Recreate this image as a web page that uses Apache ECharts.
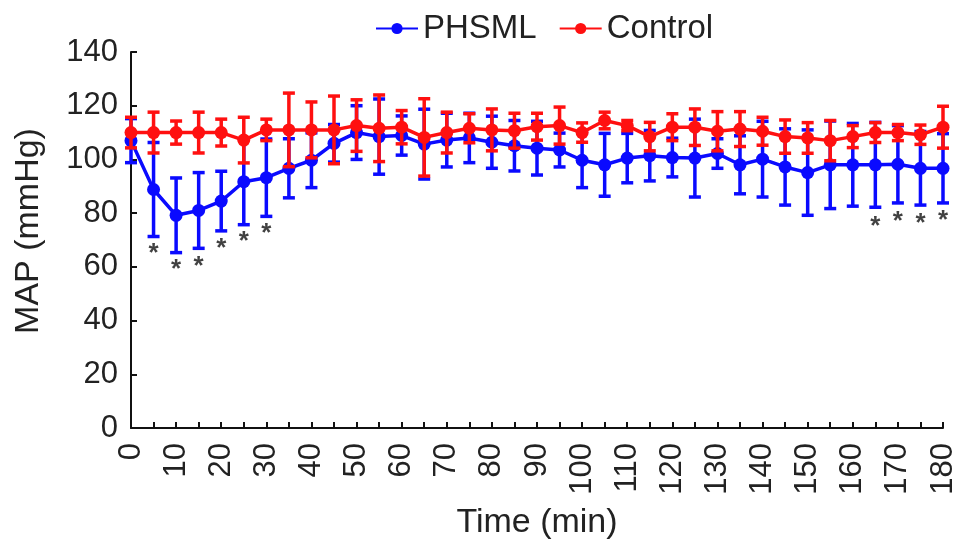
<!DOCTYPE html>
<html>
<head>
<meta charset="utf-8">
<script src="https://cdn.jsdelivr.net/npm/echarts@6/dist/echarts.min.js"></script>
<style>
  html, body { margin: 0; padding: 0; background: #fff; }
  #chart { width: 969px; height: 554px; }
</style>
</head>
<body>
<div id="chart"></div>
<script>
// time points (min)
var times = [0,5,10,15,20,25,30,35,40,45,50,55,60,65,70,75,80,85,90,95,100,105,110,115,120,125,130,135,140,145,150,155,160,165,170,175,180];

// PHSML group: mean and SD
var phsmlMean = [107,88.8,79.2,81,84.5,91.7,93.2,96.7,99.7,106,110,108.5,108.9,105.7,107.2,108,106.4,105.1,104.2,103.5,99.7,98,100.5,101.4,100.7,100.5,102.2,98,100.1,97.2,95.1,98,98,98,98.2,96.7,96.7];
var phsmlSd   = [8.2,17.5,13.9,14.1,11.1,16,14.4,11,10.2,7,10,14,7.3,13,10,9.2,9.7,9.4,10,6.3,10.2,11.7,9.2,9.4,7.2,14.5,5.5,10.8,14.1,14.2,15.9,16.3,15.4,15.8,14.4,13.7,12.9];

// Control group: mean and SD
var controlMean = [110,110,110,110,110,107.2,111,111,111,111,112.6,111.6,112,108.2,110,111.6,111,110.7,112.2,112.6,110,114.5,112.6,108.5,112,112,110.5,111.3,110.5,108.5,108,107,108.5,110,110,109.2,112];
var controlSd   = [5.7,7.6,4.3,7.6,5,8.5,4,13.7,10.4,12.6,9.6,12.4,6.2,14.4,7.6,5.4,7.8,6.5,5,6.9,3.6,3.1,1.9,5.3,5,6.8,7.3,6.5,5.2,6.2,5.7,7.5,4.1,3.7,3,3.6,7.8];

// significance marks (*)
var starTimes = [5,10,15,20,25,30,165,170,175,180];
var starY     = [67,61.3,62.3,69,71.7,74.4,77.2,79,78.2,79.4];

var blue = '#0a0aff';
var red = '#ff1010';
var font = 'Liberation Sans, Arial, Helvetica, sans-serif';

function pairs(xs, ys) {
  var out = [];
  for (var i = 0; i < xs.length; i++) out.push([xs[i], ys[i]]);
  return out;
}

function errData(mean, sd) {
  var out = [];
  for (var i = 0; i < times.length; i++) {
    out.push([times[i], mean[i] - sd[i], mean[i] + sd[i]]);
  }
  return out;
}

function errRender(color) {
  return function (params, api) {
    var lo = api.coord([api.value(0), api.value(1)]);
    var hi = api.coord([api.value(0), api.value(2)]);
    var w = 6;
    var style = { stroke: color, lineWidth: 3.5 };
    return {
      type: 'group',
      children: [
        { type: 'line', shape: { x1: lo[0], y1: lo[1], x2: hi[0], y2: hi[1] }, style: style },
        { type: 'line', shape: { x1: lo[0] - w, y1: lo[1], x2: lo[0] + w, y2: lo[1] }, style: style },
        { type: 'line', shape: { x1: hi[0] - w, y1: hi[1], x2: hi[0] + w, y2: hi[1] }, style: style }
      ]
    };
  };
}

var myChart = echarts.init(document.getElementById('chart'));

var option = {
  animation: false,
  backgroundColor: '#fff',
  textStyle: { fontFamily: font },
  legend: {
    top: 7,
    left: 370,
    itemWidth: 42,
    itemHeight: 14,
    itemGap: 22,
    data: ['PHSML', 'Control'],
    textStyle: { fontSize: 33, color: '#222', fontFamily: font }
  },
  grid: { left: 131, right: 26, top: 52, bottom: 126, outerBoundsMode: 'none', containLabel: false },
  xAxis: {
    type: 'value',
    min: 0,
    max: 180,
    interval: 5,
    name: 'Time (min)',
    nameLocation: 'middle',
    nameGap: 78,
    nameTextStyle: { fontSize: 34, color: '#222', fontFamily: font },
    axisLine: { lineStyle: { color: '#111', width: 2 } },
    axisTick: { inside: true, length: 6, lineStyle: { color: '#111', width: 2 } },
    axisLabel: {
      rotate: 90,
      margin: 15,
      fontSize: 31,
      color: '#222',
      fontFamily: font,
      formatter: function (v) { return v % 10 === 0 ? String(v) : ''; }
    },
    splitLine: { show: false }
  },
  yAxis: {
    type: 'value',
    min: 0,
    max: 140,
    interval: 20,
    name: 'MAP (mmHg)',
    nameLocation: 'middle',
    nameGap: 85,
    nameRotate: 90,
    nameTextStyle: { fontSize: 34, color: '#222', fontFamily: font, padding: [0, 0, 0, 18] },
    axisLine: { show: true, lineStyle: { color: '#111', width: 2 } },
    axisTick: { show: true, inside: true, length: 6, lineStyle: { color: '#111', width: 2 } },
    axisLabel: { margin: 13, fontSize: 31, color: '#222', fontFamily: font },
    splitLine: { show: false }
  },
  series: [
    {
      name: 'PHSML err',
      type: 'custom',
      renderItem: errRender(blue),
      data: errData(phsmlMean, phsmlSd),
      z: 2,
      silent: true
    },
    {
      name: 'PHSML',
      type: 'line',
      data: pairs(times, phsmlMean),
      symbol: 'circle',
      symbolSize: 13,
      lineStyle: { color: blue, width: 3.5 },
      itemStyle: { color: blue },
      z: 3
    },
    {
      name: 'Control err',
      type: 'custom',
      renderItem: errRender(red),
      data: errData(controlMean, controlSd),
      z: 4,
      silent: true
    },
    {
      name: 'Control',
      type: 'line',
      data: pairs(times, controlMean),
      symbol: 'circle',
      symbolSize: 13,
      lineStyle: { color: red, width: 3.5 },
      itemStyle: { color: red },
      z: 5
    },
    {
      name: 'sig',
      type: 'scatter',
      data: pairs(starTimes, starY),
      symbolSize: 1,
      itemStyle: { color: 'rgba(0,0,0,0)' },
      label: {
        show: true,
        position: 'inside',
        formatter: '*',
        fontSize: 26,
        fontWeight: 'bold',
        color: '#111',
        offset: [0, 6]
      },
      z: 6
    }
  ]
};

myChart.setOption(option);
</script>
</body>
</html>
